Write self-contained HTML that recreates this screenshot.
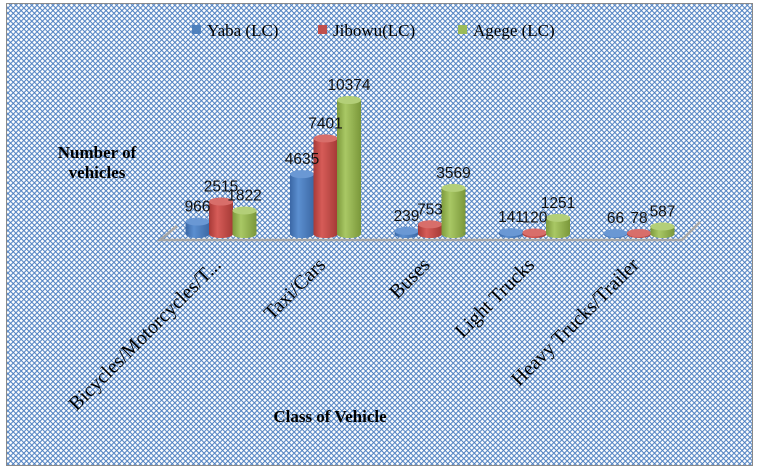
<!DOCTYPE html>
<html><head><meta charset="utf-8"><style>
html,body{margin:0;padding:0;background:#fff;}
svg{display:block;}
</style></head><body>
<svg id="chart" width="757" height="471" viewBox="0 0 757 471" xmlns="http://www.w3.org/2000/svg">
<defs>
<pattern id="hatch" width="5.3" height="5.3" patternUnits="userSpaceOnUse">
<rect width="5.3" height="5.3" fill="#ffffff"/>
<path d="M0,0 L5.3,5.3 M5.3,0 L0,5.3" stroke="#4a7dc0" stroke-width="1" fill="none"/>
</pattern>
<linearGradient id="gb" x1="0" x2="1"><stop offset="0" stop-color="#3a67a5"/><stop offset="0.35" stop-color="#5b8fd0"/><stop offset="1" stop-color="#3c68a4"/></linearGradient>
<linearGradient id="gr" x1="0" x2="1"><stop offset="0" stop-color="#a83a37"/><stop offset="0.35" stop-color="#d65c58"/><stop offset="1" stop-color="#a53a36"/></linearGradient>
<linearGradient id="gg" x1="0" x2="1"><stop offset="0" stop-color="#7d9a3c"/><stop offset="0.35" stop-color="#a9c865"/><stop offset="1" stop-color="#7a973a"/></linearGradient>
</defs>
<rect x="6.5" y="3.5" width="746" height="462" fill="url(#hatch)" stroke="#8a8a8a"/>
<g font-family="Liberation Serif, serif" font-size="17">
<rect x="192" y="25" width="9" height="9" fill="#4f81bd"/>
<text x="207" y="36">Yaba (LC)</text>
<rect x="318" y="25" width="9" height="9" fill="#c0504d"/>
<text x="333" y="36">Jibowu(LC)</text>
<rect x="458" y="25" width="9" height="9" fill="#9bbb59"/>
<text x="473" y="36">Agege (LC)</text>
</g>
<polyline points="177,226 160,240 682,240 700,222" fill="none" stroke="#a6a6a6" stroke-width="2.5"/>
<g font-family="Liberation Serif, serif" font-weight="bold" font-size="17">
<text x="97" y="158" text-anchor="middle"><tspan x="97">Number of</tspan><tspan x="97" dy="20">vehicles</tspan></text>
<text x="330" y="422" text-anchor="middle">Class of Vehicle</text>
</g>
<g id="bars"></g>
<g id="labels"></g>
</svg>
<script>
const categories = ["Bicycles/Motorcycles/T...", "Taxi/Cars", "Buses", "Light Trucks", "Heavy Trucks/Trailer"];
const yaba = [966, 4635, 239, 141, 66];
const jibowu = [2515, 7401, 753, 120, 78];
const agege = [1822, 10374, 3569, 1251, 587];
const seriesNames = ["yaba", "jibowu", "agege"];
const NS = "http://www.w3.org/2000/svg";
const series = [yaba, jibowu, agege];
const grads = ["url(#gb)", "url(#gr)", "url(#gg)"];
const tops = ["#6a98d4", "#d86e6a", "#b3cf78"];
const baseY = 234, scale = 134 / 10374;
function xGroup(i){ return 221 + i * 104.5; }
function xBar(i, s){ return xGroup(i) + (s - 1) * 23.5; }
function yVal(v){ return baseY - v * scale; }
const bars = document.getElementById('bars');
const labels = document.getElementById('labels');
function mk(tag, attrs){ const e = document.createElementNS(NS, tag); for (const k in attrs) e.setAttribute(k, attrs[k]); return e; }
categories.forEach((c, i) => {
  series.forEach((arr, s) => {
    const v = arr[i], cx = xBar(i, s), w = 24, ry = 4, top = yVal(v);
    const g = mk('g', {});
    
    
    g.appendChild(mk('ellipse', {cx: cx, cy: baseY, rx: w/2, ry: ry, fill: grads[s]}));
    g.appendChild(mk('rect', {x: cx - w/2, y: top, width: w, height: baseY - top, fill: grads[s]}));
    g.appendChild(mk('ellipse', {cx: cx, cy: top, rx: w/2, ry: ry, fill: tops[s]}));
    bars.appendChild(g);
    const t = mk('text', {x: cx, y: top - 10, 'text-anchor': 'middle', 'font-family': 'Liberation Sans, sans-serif', 'font-size': '15.5', fill: '#111'});
    t.textContent = v;
    
    
    labels.appendChild(t);
  });
  const x = xGroup(i) + 1, y = 266;
  const t = mk('text', {x: x, y: y, 'text-anchor': 'end', transform: 'rotate(-45 ' + x + ' ' + y + ')', 'font-family': 'Liberation Serif, serif', 'font-size': '20', fill: '#000'});
  t.textContent = c;
  
  
  labels.appendChild(t);
});
</script>
</body></html>
